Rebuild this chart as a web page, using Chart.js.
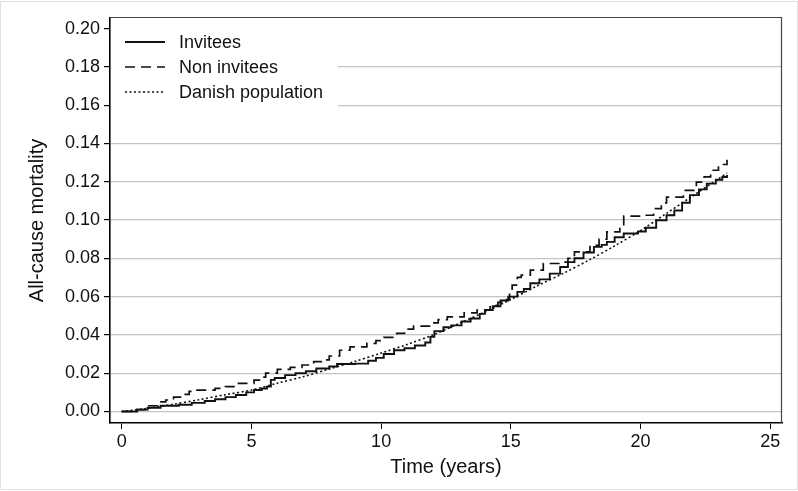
<!DOCTYPE html>
<html>
<head>
<meta charset="utf-8">
<script src="https://cdn.jsdelivr.net/npm/chart.js@4/dist/chart.umd.min.js"></script>
<style>
  body { margin: 0; background: #fff; }
  canvas { display: block; }
</style>
</head>
<body>
<canvas id="chartId" width="798" height="491"></canvas>
<script>
// cumulative all-cause mortality (time in years)
var invYears = [0, 0.6, 1.0, 1.5, 2.2, 2.7, 3.2, 3.6, 4.0, 4.4, 4.8, 5.1, 5.4, 5.6, 5.75, 5.9, 6.3, 6.7, 7.1, 7.5, 8.0, 8.3, 9.0, 9.5, 9.8, 10.1, 10.5, 10.9, 11.3, 11.7, 11.9, 12.05, 12.4, 12.7, 13.1, 13.45, 13.8, 14.0, 14.3, 14.6, 14.9, 15.25, 15.5, 15.75, 16.1, 16.5, 16.9, 17.2, 17.45, 17.8, 18.2, 18.5, 18.7, 19.0, 19.35, 19.9, 20.2, 20.6, 21.0, 21.3, 21.6, 21.9, 22.25, 22.55, 22.9, 23.15, 23.33];
var invValues = [0, 0.001, 0.002, 0.003, 0.0035, 0.0045, 0.0055, 0.0064, 0.0075, 0.0086, 0.010, 0.0112, 0.012, 0.013, 0.0165, 0.0175, 0.019, 0.020, 0.021, 0.0225, 0.0235, 0.0248, 0.025, 0.0265, 0.028, 0.030, 0.032, 0.033, 0.0345, 0.036, 0.039, 0.042, 0.044, 0.045, 0.047, 0.0486, 0.051, 0.053, 0.055, 0.058, 0.060, 0.0625, 0.064, 0.067, 0.069, 0.072, 0.0755, 0.078, 0.080, 0.083, 0.086, 0.087, 0.0886, 0.091, 0.093, 0.094, 0.096, 0.0999, 0.1025, 0.105, 0.109, 0.113, 0.116, 0.119, 0.121, 0.1225, 0.1235];

var nonYears = [0, 0.5, 1.0, 1.4, 1.7, 2.0, 2.3, 2.6, 2.85, 3.6, 4.0, 4.5, 5.1, 5.35, 5.55, 6.0, 6.5, 6.95, 7.4, 7.7, 8.0, 8.4, 8.8, 9.45, 9.8, 10.1, 10.6, 10.9, 11.25, 11.9, 12.2, 12.55, 13.2, 13.7, 14.2, 14.5, 14.75, 14.95, 15.05, 15.25, 15.4, 15.75, 16.25, 16.9, 17.2, 17.45, 18.05, 18.4, 18.7, 19.2, 19.35, 20.0, 20.5, 20.8, 21.0, 21.65, 22.15, 22.45, 22.7, 23.0, 23.33];
var nonValues = [0, 0.001, 0.003, 0.005, 0.006, 0.0075, 0.009, 0.0105, 0.0112, 0.0121, 0.013, 0.0147, 0.0164, 0.018, 0.020, 0.022, 0.023, 0.0243, 0.026, 0.027, 0.029, 0.032, 0.0338, 0.0356, 0.037, 0.0387, 0.0408, 0.043, 0.0446, 0.0463, 0.048, 0.0494, 0.0515, 0.053, 0.0555, 0.057, 0.0585, 0.062, 0.066, 0.070, 0.0712, 0.0738, 0.0773, 0.078, 0.080, 0.0834, 0.0868, 0.090, 0.0938, 0.0964, 0.102, 0.1025, 0.106, 0.109, 0.112, 0.1155, 0.1198, 0.1225, 0.126, 0.129, 0.1315];

var danYears = [0, 1, 2, 3, 4, 5, 6, 7, 8, 9, 10, 11, 12, 13, 14, 15, 16, 17, 18, 19, 20, 21, 22, 23, 23.33];
var danValues = [0, 0.0017, 0.0038, 0.0062, 0.0088, 0.0112, 0.0148, 0.0182, 0.0222, 0.0262, 0.0305, 0.035, 0.040, 0.046, 0.052, 0.0585, 0.0655, 0.072, 0.079, 0.0865, 0.0945, 0.1035, 0.1125, 0.1215, 0.1245];

var xTicks = [0, 5, 10, 15, 20, 25];
var yTicks = [0, 0.02, 0.04, 0.06, 0.08, 0.10, 0.12, 0.14, 0.16, 0.18, 0.20];

var fontFamily = '"Liberation Sans", Arial, Helvetica, sans-serif';

function toPoints(xs, ys) {
    return xs.map(function (x, i) { return { x: x, y: ys[i] }; });
}

// white legend box in the top left corner, drawn over the grid
var legendBox = {
    id: 'legendBox',
    beforeDatasetsDraw: function (chart) {
        var ctx = chart.ctx;
        var area = chart.chartArea;
        ctx.save();
        ctx.fillStyle = '#fff';
        ctx.fillRect(area.left + 1, area.top + 1, 227, 102);
        chart.data.datasets.forEach(function (ds, i) {
            var y = area.top + 24 + i * 25;
            ctx.strokeStyle = ds.borderColor;
            ctx.lineWidth = ds.borderWidth;
            ctx.setLineDash(ds.borderDash || []);
            ctx.beginPath();
            ctx.moveTo(area.left + 15, y);
            ctx.lineTo(area.left + 55, y);
            ctx.stroke();
            ctx.setLineDash([]);
            ctx.fillStyle = '#111';
            ctx.font = '18px ' + fontFamily;
            ctx.textBaseline = 'middle';
            ctx.fillText(ds.label, area.left + 69, y + 1);
        });
        ctx.restore();
    }
};

// plot frame and the faint outer border
var frame = {
    id: 'frame',
    afterDraw: function (chart) {
        var ctx = chart.ctx;
        var area = chart.chartArea;
        ctx.save();
        ctx.strokeStyle = '#444';
        ctx.lineWidth = 1.2;
        ctx.beginPath();
        ctx.moveTo(area.left, area.top - 0.5);
        ctx.lineTo(area.right - 0.5, area.top - 0.5);
        ctx.lineTo(area.right - 0.5, area.bottom);
        ctx.stroke();
        ctx.strokeStyle = '#e3e3e3';
        ctx.lineWidth = 1;
        ctx.strokeRect(0.5, 1.5, 797, 488);
        ctx.restore();
    }
};

var chrt = document.getElementById("chartId").getContext("2d");
var chartId = new Chart(chrt, {
    type: 'line',
    data: {
        datasets: [{
            label: "Invitees",
            data: toPoints(invYears, invValues),
            borderColor: '#111',
            borderWidth: 1.9,
            stepped: 'before',
            pointRadius: 0,
            fill: false,
        }, {
            label: "Non invitees",
            data: toPoints(nonYears, nonValues),
            borderColor: '#111',
            borderWidth: 1.7,
            borderDash: [10, 6],
            stepped: 'before',
            pointRadius: 0,
            fill: false,
        }, {
            label: "Danish population",
            data: toPoints(danYears, danValues),
            borderColor: '#111',
            borderWidth: 1.6,
            borderDash: [2, 2.5],
            tension: 0.3,
            pointRadius: 0,
            fill: false,
        }],
    },
    options: {
        responsive: false,
        animation: false,
        layout: { padding: { top: 18, right: 16, bottom: 0, left: 0 } },
        plugins: {
            legend: { display: false },
            tooltip: { enabled: false },
        },
        scales: {
            x: {
                type: 'linear',
                min: -0.45,
                max: 25.45,
                afterBuildTicks: function (scale) {
                    scale.ticks = xTicks.map(function (v) { return { value: v }; });
                },
                afterFit: function (scale) { scale.height = 68; },
                grid: { drawOnChartArea: false, drawTicks: true, tickLength: 6, tickColor: '#000' },
                border: { display: true, color: '#000', width: 1.6 },
                ticks: {
                    color: '#111',
                    padding: 2,
                    maxRotation: 0,
                    font: { family: fontFamily, size: 18 },
                    callback: function (v) { return String(v); },
                },
                title: {
                    display: true,
                    text: 'Time (years)',
                    color: '#111',
                    font: { family: fontFamily, size: 20 },
                    padding: { top: 0, bottom: 12 },
                },
            },
            y: {
                min: -0.006,
                max: 0.2055,
                afterBuildTicks: function (scale) {
                    scale.ticks = yTicks.map(function (v) { return { value: v }; });
                },
                afterFit: function (scale) { scale.width = 110; },
                grid: {
                    color: function (c) {
                        return c.tick && c.tick.value > 0.19 ? 'rgba(0,0,0,0)' : '#c4c4c4';
                    },
                    lineWidth: 1.2,
                    drawTicks: true,
                    tickLength: 6,
                    tickColor: '#000',
                },
                border: { display: true, color: '#000', width: 1.6 },
                ticks: {
                    color: '#111',
                    padding: 4,
                    font: { family: fontFamily, size: 18 },
                    callback: function (v) { return Number(v).toFixed(2); },
                },
                title: {
                    display: true,
                    text: 'All-cause mortality',
                    color: '#111',
                    font: { family: fontFamily, size: 20 },
                    padding: { top: 25, bottom: 0 },
                },
            },
        },
    },
    plugins: [legendBox, frame],
});
</script>
</body>
</html>
